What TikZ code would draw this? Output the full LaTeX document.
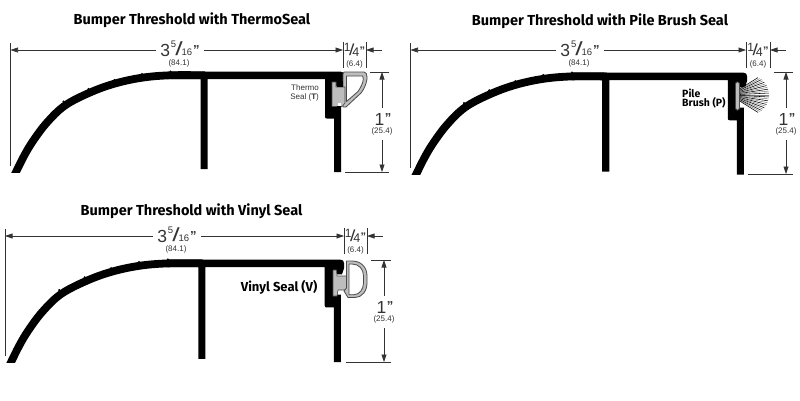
\documentclass[tikz,border=0pt]{standalone}
\usepackage{fontspec}
\setmainfont{Liberation Sans}
\newfontfamily\titlefont{Fira Sans}[UprightFont=* Medium,BoldFont=* Bold]
\usetikzlibrary{arrows.meta}
\definecolor{dimc}{HTML}{333333}
\definecolor{sealg}{HTML}{BDBDBD}
\definecolor{sealo}{HTML}{4A4A4A}
\newcommand{\fs}[2]{\fontsize{#1}{#2}\selectfont}
\newcommand{\slashglyph}[1]{\scalebox{1.4}[1]{\fs{#1}{#1}/}}
\newcommand{\qmark}{\raisebox{2.5pt}{\fs{13}{14}\bfseries"}}
\newcommand{\tfiveSixteen}{{\fs{17.5}{18}3\kern1pt\raisebox{9pt}{\fs{9.5}{10}5}\kern-1pt\raisebox{1pt}{\slashglyph{19}}\kern-1pt\raisebox{1pt}{\fs{9.5}{10}16}\kern1pt\qmark}}
\newcommand{\tquarter}{{\raisebox{5pt}{\fs{12}{12}1}\kern-1.5pt\raisebox{1pt}{\scalebox{1.2}[1]{\fs{16}{16}/}}\kern-2pt\fs{12.5}{13}4\kern.3pt\raisebox{1.5pt}{\fs{11}{12}\bfseries"}}}
\newcommand{\tone}{{\fs{17.5}{18}1\kern.5pt\qmark}}
\tikzset{
  dimline/.style={draw=dimc,line width=0.65pt},
  dimarrow/.style={dimline,-{Triangle[length=7.5pt,width=5pt]}},
  titletext/.style={font=\titlefont\bfseries\fs{14.5}{16},text=black,inner sep=0pt},
  lbl/.style={inner sep=0pt,text=dimc},
  mm/.style={lbl,font=\fs{8}{8}},
  profile/.style={fill=black,draw=none},
  seal/.style={fill=sealg,draw=sealo,line width=0.8pt,line join=round},
}
% #1 prefix #2 xL #3 E1 #4 E2 #5 D #6 yDim #7 yTop #8 yBot #9 x of long text
\newcommand{\dims}[9]{
  \coordinate (#1L0) at (#2,#6-7);
  \coordinate (#1L1) at (#2,#8-6);
  \coordinate (#1LA) at (#2,#6);
  \coordinate (#1EA0) at (#3,#6-8);
  \coordinate (#1EA1) at (#3,#6+18);
  \coordinate (#1EB0) at (#4,#6-8);
  \coordinate (#1EB1) at (#4,#6+18);
  \coordinate (#1A) at (#3,#6);
  \coordinate (#1B) at (#4,#6);
  \coordinate (#1C) at (#4+16,#6);
  \coordinate (#1T0) at (#4+4,#7);
  \coordinate (#1T1) at (#5+7,#7);
  \coordinate (#1U0) at (#3+2,#8);
  \coordinate (#1U1) at (#5+7,#8);
  \coordinate (#1V0) at (#5,#7);
  \coordinate (#1V1) at (#5,#8);
  \node[lbl,anchor=base,inner xsep=4pt] (#1len) at (#9,#6+6.7) {\tfiveSixteen};
  \node[mm] (#1lenmm) at (#9-1,#6+13) {(84.1)};
  \node[lbl,anchor=base] (#1q) at ({(#3+#4)/2},#6+6) {\tquarter};
  \node[mm] (#1qmm) at ({(#3+#4)/2},#6+14) {(6.4)};
  \node[lbl,anchor=base,inner ysep=5pt] (#1h) at (#5+1,#7+53) {\tone};
  \node[mm,inner ysep=5pt] (#1hmm) at (#5,#7+59.5) {(25.4)};
  \draw[dimline] (#1L0) -- (#1L1);
  \draw[dimline] (#1EA0) -- (#1EA1);
  \draw[dimline] (#1EB0) -- (#1EB1);
  \draw[dimarrow] (#1len.west |- #1LA) -- (#1LA);
  \draw[dimarrow] (#1len.east |- #1LA) -- (#1A);
  \draw[dimarrow] (#1C) -- (#1B);
  \draw[dimline] (#1T0) -- (#1T1);
  \draw[dimline] (#1U0) -- (#1U1);
  \draw[dimarrow] (#1h.north -| #1V0) -- (#1V0);
  \draw[dimarrow] (#1hmm.south -| #1V1) -- (#1V1);
}
\newcommand{\profileshape}{
  \fill[profile]
    (170,71.5)
    -- (340,71.5) .. controls (343,71.5) and (344,73) .. (344,75)
    -- (344,80) -- (342,86) -- (334,86) -- (334,106) -- (341,106)
    -- (341,172) -- (334,172) -- (334,118.5) -- (327,118.5)
    .. controls (325.5,118.5) and (325,118) .. (325,116.5)
    -- (325,79) -- (207.5,79) -- (207.5,169) -- (200.5,169) -- (200.5,79)
    -- (170,79) -- cycle;
  \begin{scope}
    \clip (0,60) rectangle (205,172);
    \draw[black,line width=7.8pt] plot[smooth,tension=.6] coordinates
      {(13,178) (16,172) (24,156) (33,141) (47,122.5) (65,105.5) (90,92.5) (115,83.5) (142,77.7) (170,75.3) (205,75.3)};
  \end{scope}
  \foreach \bx/\by in {63.5/101.5,88.5/89,114.5/80,142/74,170.5/71.5}
    \fill[black] (\bx,\by) circle[radius=1.2pt];
}
\begin{document}
\begin{tikzpicture}[x=1pt,y=-1pt]
\useasboundingbox (0,0) rectangle (800,400);
\fill[white] (0,0) rectangle (800,400);
% Titles
\node[titletext] (t1) at (192,20) {Bumper Threshold with ThermoSeal};
\node[titletext] (t2) at (600,21) {Bumper Threshold with Pile Brush Seal};
\node[titletext] (t3) at (191.5,211) {Bumper Threshold with Vinyl Seal};
% Profiles
\begin{scope}\profileshape\end{scope}
\begin{scope}[shift={(399.9,0)},xscale=1.009,yscale=1.015]\profileshape\end{scope}
\begin{scope}[shift={(-5.15,186.6)},xscale=1.015,yscale=1.02]\profileshape\end{scope}
% Dimensions
\dims{a}{10.5}{343}{366}{382}{50}{72}{172}{180}
\dims{b}{410.5}{746}{770}{786}{50}{72}{174}{580}
\dims{c}{5}{344}{367}{384}{236}{260}{362}{177}
% Thermo seal
\fill[seal,even odd rule]
  (344,72) -- (364,72) .. controls (366,72) and (367,74) .. (367,77) -- (367,79)
  .. controls (366,85) and (364,89) .. (361,93) -- (346,107) -- (343,107) -- (343,74) -- cycle
  (346.5,76) -- (346.5,101.5) -- (358,91.5) .. controls (361,87) and (363,83) .. (363.3,79) -- (362.7,76) -- cycle;
\fill[seal,line width=.6pt] (332,82) -- (336,82) -- (336,87) -- (345,87) -- (345,103) -- (342,106.5) -- (332,106.5) -- cycle;
\fill[black] (336.5,81) rectangle (343,87);
\fill[black] (336.5,106) rectangle (341,108);
\fill[white] (337.5,102.5) rectangle (341,105.5);
\node[lbl,align=right,font=\fs{8}{9},anchor=east] (la) at (319,93) {Thermo\\Seal (\textbf{T})};
% Pile seal
\foreach \k in {-11,...,11}{
  \pgfmathsetmacro\ang{\k*2.9}
  \pgfmathsetmacro\rad{39-0.05*\k*\k}
  \pgfmathsetmacro\rs{9/cos(\ang)}
  \pgfmathparse{int(mod(\k+11,2))}
  \ifnum\pgfmathresult=0
    \draw[black,line width=.55pt] ({730+\rs*cos(\ang)},{95+\rs*sin(\ang)}) -- ({730+\rad*cos(\ang)},{95+\rad*sin(\ang)});
  \else
    \draw[gray,line width=.5pt] ({730+\rs*cos(\ang)},{95+\rs*sin(\ang)}) -- ({730+\rad*cos(\ang)},{95+\rad*sin(\ang)});
  \fi
}
\fill[black] (733.5,81) rectangle (739,112);
\fill[seal,rounded corners=1.5pt] (735.5,82) rectangle (739.5,110);
\node[anchor=west,titletext,font=\titlefont\bfseries\fs{10.5}{10}] (lb1) at (682,93) {Pile};
\node[anchor=west,titletext,font=\titlefont\bfseries\fs{10.5}{10}] (lb2) at (682,103) {Brush (P)};
% Vinyl seal
\fill[seal,line width=.6pt] (333,270) -- (336.5,270) -- (337,276) -- (347,276) -- (347,290) -- (338,290) -- (337,296) -- (333,296) -- cycle;
\fill[seal,even odd rule]
  (346.5,261) -- (352,261) .. controls (361,261) and (367,267) .. (367,276) -- (367,283)
  .. controls (367,291) and (362,297.5) .. (355,297.5) -- (348,297.5) -- (344,291) -- (346.5,288) -- cycle
  (349,264) -- (352,264) .. controls (359,264) and (363.5,269) .. (363.5,276) -- (363.5,283)
  .. controls (363.5,289) and (359.5,294.7) .. (354,294.7) -- (349,294.7) -- cycle;
\node[anchor=east,titletext,font=\titlefont\bfseries\fs{13}{14}] (lc) at (317.5,287) {Vinyl Seal (V)};
\end{tikzpicture}
\end{document}
